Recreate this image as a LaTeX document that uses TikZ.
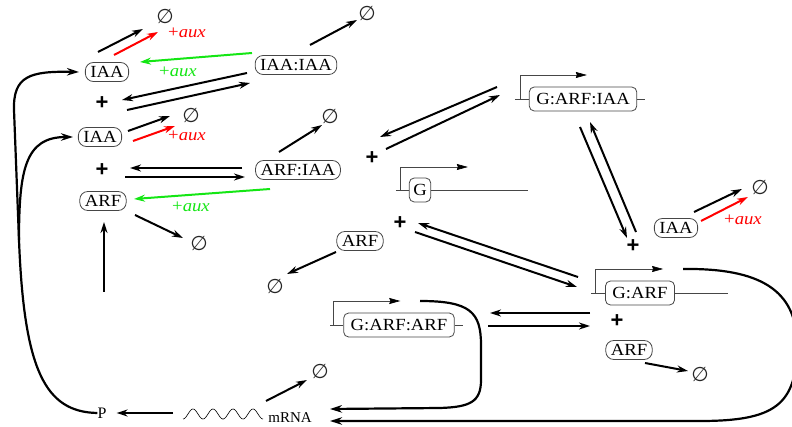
\documentclass[tikz,border=0pt]{standalone}
\usepackage{fontspec}
\setmainfont{Liberation Serif}
\newfontfamily\spfont[FakeStretch=1.1]{Liberation Serif}
\newfontfamily\plusfont{Liberation Sans}
\newfontfamily\symfont{DejaVu Sans}
\usetikzlibrary{arrows.meta,calc}
\definecolor{auxred}{RGB}{255,0,0}
\definecolor{auxgreen}{RGB}{20,230,20}
\definecolor{boxgray}{RGB}{70,70,70}
\begin{document}
\begin{tikzpicture}[x=1pt,y=-1pt,
  species/.style={rectangle, rounded corners=8pt, draw=boxgray, line width=0.8pt,
    inner xsep=5pt, inner ysep=0pt, minimum height=19pt,
    font=\spfont\fontsize{17}{17}\selectfont},
  gene/.style={rectangle, rounded corners=5pt, draw=boxgray, line width=0.8pt,
    inner xsep=7pt, inner ysep=0pt, minimum height=24pt,
    font=\spfont\fontsize{17}{17}\selectfont},
  plus/.style={font=\plusfont\bfseries\fontsize{22}{22}\selectfont, inner sep=0pt},
  nil/.style={font=\symfont\fontsize{20}{20}\selectfont, inner sep=0pt, text=black!85},
  auxlbl/.style={font=\spfont\fontsize{17}{17}\selectfont, inner sep=0pt},
  arr/.style={line width=2pt, -{Stealth[length=11pt,width=7pt]}},
  redarr/.style={arr, draw=auxred},
  greenarr/.style={arr, draw=auxgreen},
  loop/.style={line width=2.2pt, -{Stealth[length=12pt,width=7.5pt]}},
  prom/.style={line width=0.6pt, draw=boxgray},
  promarr/.style={prom, -{Stealth[length=11pt,width=6pt,inset=1pt,color=black]}}
]
\useasboundingbox (0,0) rectangle (792,427);

% ---------- nodes ----------
\node[species] (iaa1) at (107,72) {IAA};
\node[species] (iaaiaa) at (296,65) {IAA:IAA};
\node[species] (iaa2) at (100,137) {IAA};
\node[species] (arfiaa) at (298,170) {ARF:IAA};
\node[species] (arf1) at (103,201) {ARF};
\node[species] (arf2) at (360,241) {ARF};
\node[species] (iaa3) at (676,228) {IAA};
\node[species] (arf3) at (629,350) {ARF};

\node[gene] (garfiaa) at (583,99) {G:ARF:IAA};
\node[gene, inner xsep=4pt] (g) at (420,190) {G};
\node[gene] (garf) at (640,293) {G:ARF};
\node[gene] (garfarf) at (399,325) {G:ARF:ARF};

\node[plus] (plus1) at (102,103) {+};
\node[plus] (plus2) at (102,170) {+};
\node[plus] (plus3) at (372,158) {+};
\node[plus] (plus4) at (400,223) {+};
\node[plus] (plus5) at (633,246) {+};
\node[plus] (plus6) at (617,321) {+};

\node[nil] (e1) at (165,17) {∅};
\node[nil] (e2) at (367,14) {∅};
\node[nil] (e3) at (191,116) {∅};
\node[nil] (e4) at (330,117) {∅};
\node[nil] (e5) at (199,243) {∅};
\node[nil] (e6) at (275,286) {∅};
\node[nil] (e7) at (760,187) {∅};
\node[nil] (e8) at (700,374) {∅};
\node[nil] (e9) at (320,371) {∅};

\node[auxlbl, text=auxred] (aux1) at (187,33) {+\textit{aux}};
\node[auxlbl, text=auxgreen] (aux2) at (178,72) {+\textit{aux}};
\node[auxlbl, text=auxred] (aux3) at (187,136) {+\textit{aux}};
\node[auxlbl, text=auxgreen] (aux4) at (191,207) {+\textit{aux}};
\node[auxlbl, text=auxred] (aux5) at (743,220) {+\textit{aux}};

\node[font=\fontsize{16}{16}\selectfont, inner sep=0pt] (P) at (102,413) {P};
\node[font=\fontsize{15}{15}\selectfont, inner sep=0pt] (mRNA) at (290,418) {mRNA};

% ---------- promoters ----------
\draw[prom] ([xshift=-14pt]garfiaa.west) -- (garfiaa.west);
\draw[promarr] ([xshift=-9pt]garfiaa.west) |- ++(67,-24);
\draw[prom] (garfiaa.east) -- ++(8,0);

\draw[prom] ([xshift=-13pt]g.west) -- (g.west);
\draw[promarr] ([xshift=-9pt]g.west) |- ++(68,-23);
\draw[prom] (g.east) -- ++(97,0);

\draw[prom] ([xshift=-14pt]garf.west) -- (garf.west);
\draw[promarr] ([xshift=-10pt]garf.west) |- ++(68,-24);
\draw[prom] (garf.east) -- ++(53,0);

\draw[prom] ([xshift=-13pt]garfarf.west) -- (garfarf.west);
\draw[promarr] ([xshift=-10pt]garfarf.west) |- ++(67,-24);
\draw[prom] (garfarf.east) -- ++(8,0);

% ---------- reactions, left ----------
\draw[arr] ([shift={(-9,-20)}]iaa1.center) -- ([shift={(-22,12)}]e1.center);
\draw[redarr] ([shift={(7,-17)}]iaa1.center) -- ([shift={(-7,15)}]e1.center);
\draw[greenarr] ([shift={(-44,-12)}]iaaiaa.center) -- ([shift={(33,-10)}]iaa1.center);
\draw[arr] ([shift={(14,-20)}]iaaiaa.center) -- ([shift={(-10,6)}]e2.center);
\draw[arr] ([shift={(-49,8)}]iaaiaa.center) -- ([shift={(20,-3)}]plus1.center);
\draw[arr] ([shift={(25,7)}]plus1.center) -- ([shift={(-46,18)}]iaaiaa.center);

\draw[arr] ([shift={(28,-6)}]iaa2.center) -- ([shift={(-21,0)}]e3.center);
\draw[redarr] ([shift={(33,4)}]iaa2.center) -- ([shift={(-16,10)}]e3.center);

\draw[arr] ([shift={(-19,-18)}]arfiaa.center) -- ([shift={(-8,8)}]e4.center);
\draw[arr] ([shift={(-56,-2)}]arfiaa.center) -- ([shift={(28,-2)}]plus2.center);
\draw[arr] ([shift={(23,7)}]plus2.center) -- ([shift={(-53,7)}]arfiaa.center);
\draw[greenarr] ([shift={(-28,19)}]arfiaa.center) -- ([shift={(31,-2)}]arf1.center);

\draw[arr] ([shift={(32,14)}]arf1.center) -- ([shift={(-16,-5)}]e5.center);
\coordinate (upstart) at (104,292);
\draw[arr] (upstart) -- ([shift={(1,21)}]arf1.center);

\draw[arr] ([shift={(-24,11)}]arf2.center) -- ([shift={(12,-12)}]e6.center);

% ---------- reactions, right ----------
\draw[arr] ([shift={(-86,-12)}]garfiaa.center) -- ([shift={(8,-21)}]plus3.center);
\draw[arr] ([shift={(14,-9)}]plus3.center) -- ([shift={(-83,-4)}]garfiaa.center);

\draw[arr] ([shift={(-3,28)}]garfiaa.center) -- ([shift={(-6,-8)}]plus5.center);
\draw[arr] ([shift={(3,-14)}]plus5.center) -- ([shift={(7,23)}]garfiaa.center);

\draw[arr] ([shift={(18,-16)}]iaa3.center) -- ([shift={(-18,2)}]e7.center);
\draw[redarr] ([shift={(25,-7)}]iaa3.center) -- ([shift={(-12,10)}]e7.center);

\draw[arr] ([shift={(-62,-16)}]garf.center) -- ([shift={(18,0)}]plus4.center);
\draw[arr] ([shift={(15,9)}]plus4.center) -- ([shift={(-63,-6)}]garf.center);

\draw[arr] ([shift={(-27,-8)}]plus6.center) -- ([shift={(91,-12)}]garfarf.center);
\draw[arr] ([shift={(89,1)}]garfarf.center) -- ([shift={(-27,5)}]plus6.center);

\draw[arr] ([shift={(16,13)}]arf3.center) -- ([shift={(-12,-3)}]e8.center);

% ---------- transcription / translation ----------
\draw[line width=0.6pt] plot[domain=183:263, samples=90, smooth] (\x, {414+5*cos(18*(\x-183))});
\draw[arr] ([shift={(-24,-17)}]mRNA.center) -- ([shift={(-13,9)}]e9.center);
\coordinate (wl) at (173,413);
\draw[arr] (wl) -- ([xshift=10pt]P.east);

\draw[loop] ([shift={(21,-24)}]garfarf.center) .. controls (470,301) and (481,312) .. (481,345)
  -- (481,380) .. controls (481,402) and (470,407) .. (440,408) -- ([shift={(40,-9)}]mRNA.center);
\draw[loop] ([shift={(43,-24)}]garf.center) .. controls (760,268) and (797,290) .. (797,345)
  .. controls (797,405) and (775,421) .. (700,421) -- ([shift={(40,3)}]mRNA.center);

\coordinate (j) at (19,240);
\draw[loop] (P.west) .. controls (45,412) and (24,370) .. (j) -- (14,110)
  .. controls (13,76) and (30,71) .. ([xshift=-6pt]iaa1.west);
\draw[loop] (j) .. controls (19,170) and (25,137) .. ([xshift=-5pt]iaa2.west);
\end{tikzpicture}
\end{document}
